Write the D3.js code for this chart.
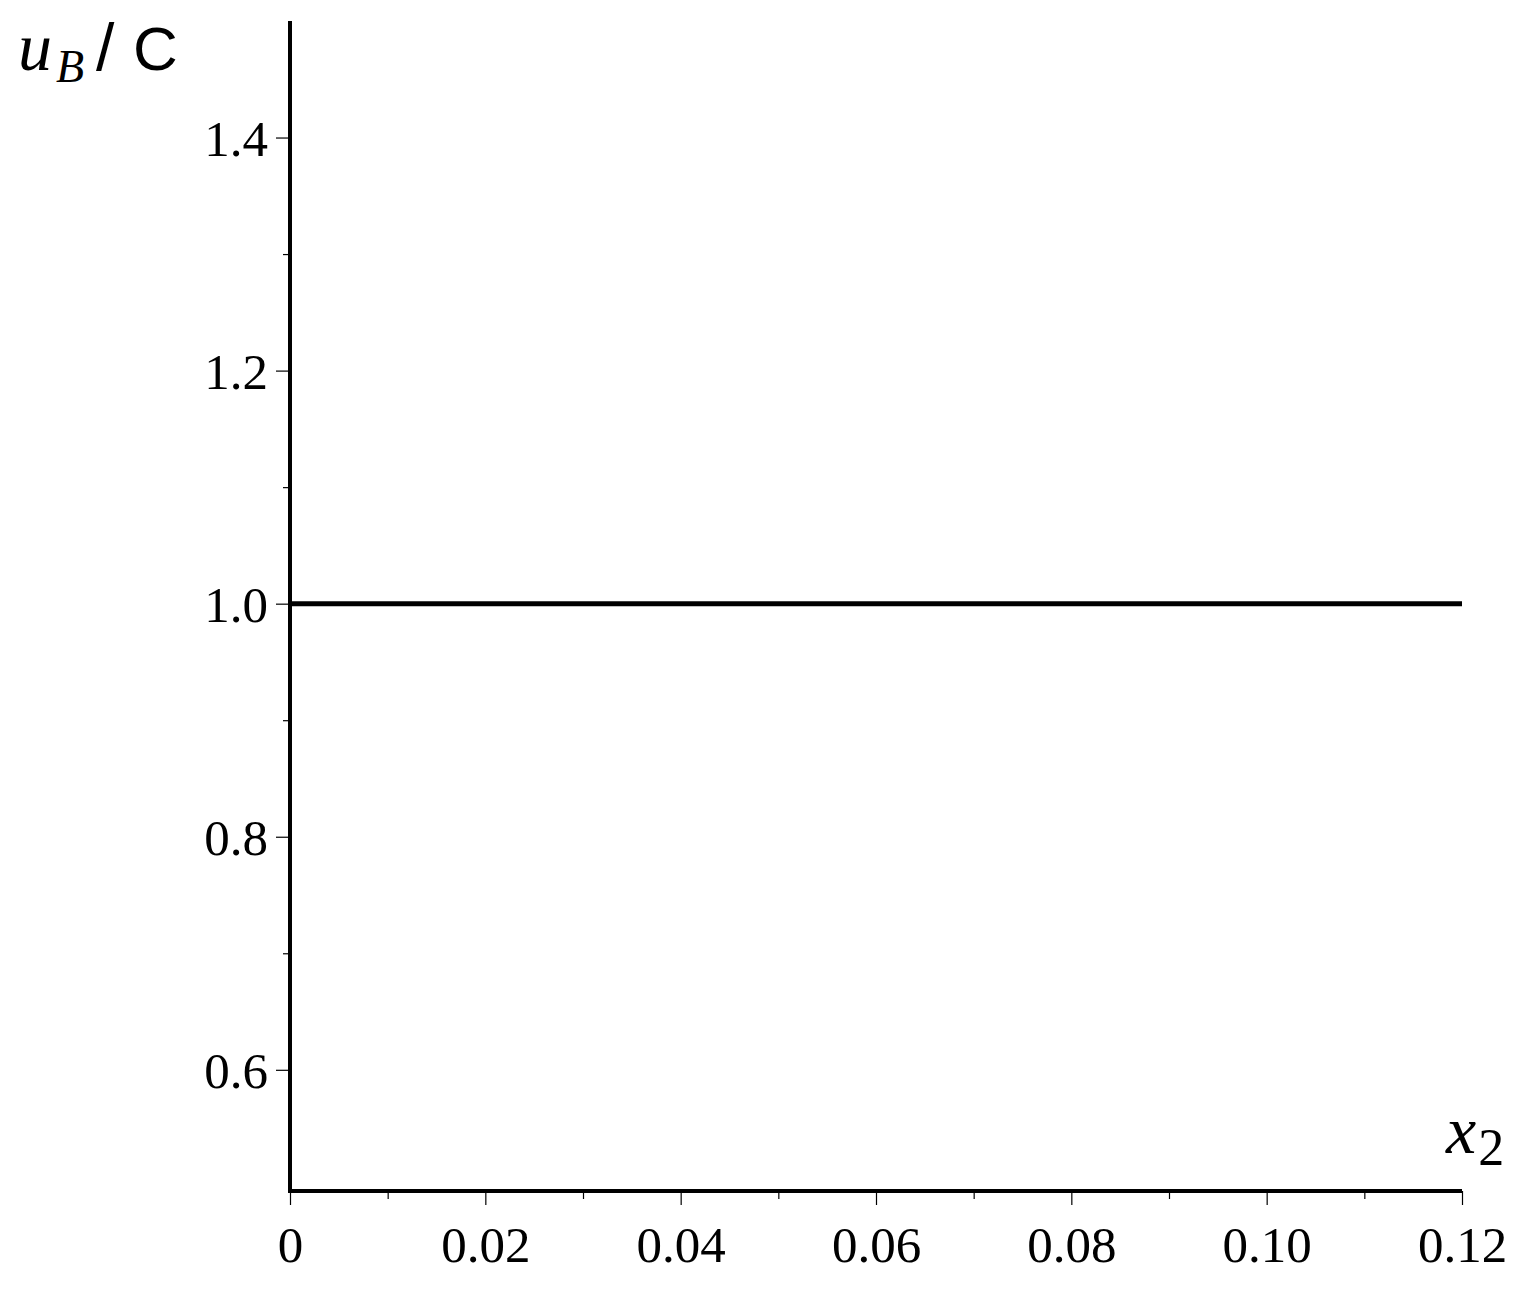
<!DOCTYPE html>
<html>
<head>
<meta charset="utf-8">
<script src="https://cdn.jsdelivr.net/npm/d3@7"></script>
<style>
  body { margin: 0; background: #fff; }
  text { font-family: "Liberation Serif", "DejaVu Serif", serif; fill: #000; }
  .axis path.domain { display: none; }
  .axis line { stroke: #000; stroke-width: 1.2; }
</style>
</head>
<body>
<div id="chart"></div>
<script>
// data: u_B / C is constant at 1 across x2
var x2Values = [0, 0.12];
var uValues = [1.0, 1.0];

// tick labels
var xTicks = [0, 0.02, 0.04, 0.06, 0.08, 0.10, 0.12];
var xTickLabels = ["0", "0.02", "0.04", "0.06", "0.08", "0.10", "0.12"];
var xMinor = [0.01, 0.03, 0.05, 0.07, 0.09, 0.11];
var yTicks = [0.6, 0.8, 1.0, 1.2, 1.4];
var yTickLabels = ["0.6", "0.8", "1.0", "1.2", "1.4"];
var yMinor = [0.7, 0.9, 1.1, 1.3];

var width = 1523, height = 1296;

// set the ranges
var x = d3.scaleLinear().domain([0, 0.12]).range([290, 1462]);
var y = d3.scaleLinear().domain([0.496, 1.5]).range([1191, 21]);

var svg = d3.select("#chart")
  .append("svg")
    .attr("width", width)
    .attr("height", height);

// minor ticks
svg.append("g")
    .attr("class", "axis")
    .attr("transform", "translate(0," + y(0.496) + ")")
    .call(d3.axisBottom(x).tickValues(xMinor).tickSize(8).tickFormat(""));

svg.append("g")
    .attr("class", "axis")
    .attr("transform", "translate(" + x(0) + ",0)")
    .call(d3.axisLeft(y).tickValues(yMinor).tickSize(7).tickFormat(""));

// major ticks + labels
var xAxis = svg.append("g")
    .attr("class", "axis")
    .attr("transform", "translate(0," + y(0.496) + ")")
    .call(d3.axisBottom(x).tickValues(xTicks).tickSize(14).tickPadding(21)
      .tickFormat(function(d, i) { return xTickLabels[i]; }));
xAxis.selectAll("text").style("font-size", "51px");

var yAxis = svg.append("g")
    .attr("class", "axis")
    .attr("transform", "translate(" + x(0) + ",0)")
    .call(d3.axisLeft(y).tickValues(yTicks).tickSize(14).tickPadding(8)
      .tickFormat(function(d, i) { return yTickLabels[i]; }));
yAxis.selectAll("text").style("font-size", "51px").attr("dy", "0.35em");

// axis lines
svg.append("line")
    .attr("x1", x(0)).attr("x2", x(0.12))
    .attr("y1", y(0.496)).attr("y2", y(0.496))
    .attr("stroke", "#000").attr("stroke-width", 4);
svg.append("line")
    .attr("x1", x(0)).attr("x2", x(0))
    .attr("y1", y(0.496) + 2).attr("y2", y(1.5))
    .attr("stroke", "#000").attr("stroke-width", 4);

// the curve
var line = d3.line()
    .x(function(d, i) { return x(x2Values[i]); })
    .y(function(d) { return y(d); });

svg.append("path")
    .datum(uValues)
    .attr("d", line)
    .attr("fill", "none")
    .attr("stroke", "#000")
    .attr("stroke-width", 5);

// axis titles
var yTitle = svg.append("text").attr("y", 70);
yTitle.append("tspan").attr("x", 18).style("font-style", "italic").style("font-size", "68px").text("u");
yTitle.append("tspan").attr("x", 56).attr("dy", 12)
    .style("font-style", "italic").style("font-size", "46px").text("B");
yTitle.append("tspan").attr("x", 96).attr("dy", -12)
    .style("font-family", "'Liberation Sans', sans-serif").style("font-size", "66px").text("/");
yTitle.append("tspan").attr("x", 133)
    .style("font-family", "'Liberation Sans', sans-serif").style("font-size", "62px").text("C");

var xTitle = svg.append("text")
    .attr("x", 1446).attr("y", 1153);
xTitle.append("tspan").style("font-style", "italic").style("font-size", "68px").text("x");
xTitle.append("tspan").style("font-size", "52px").attr("dx", 2).attr("dy", 12).text("2");
</script>
</body>
</html>
